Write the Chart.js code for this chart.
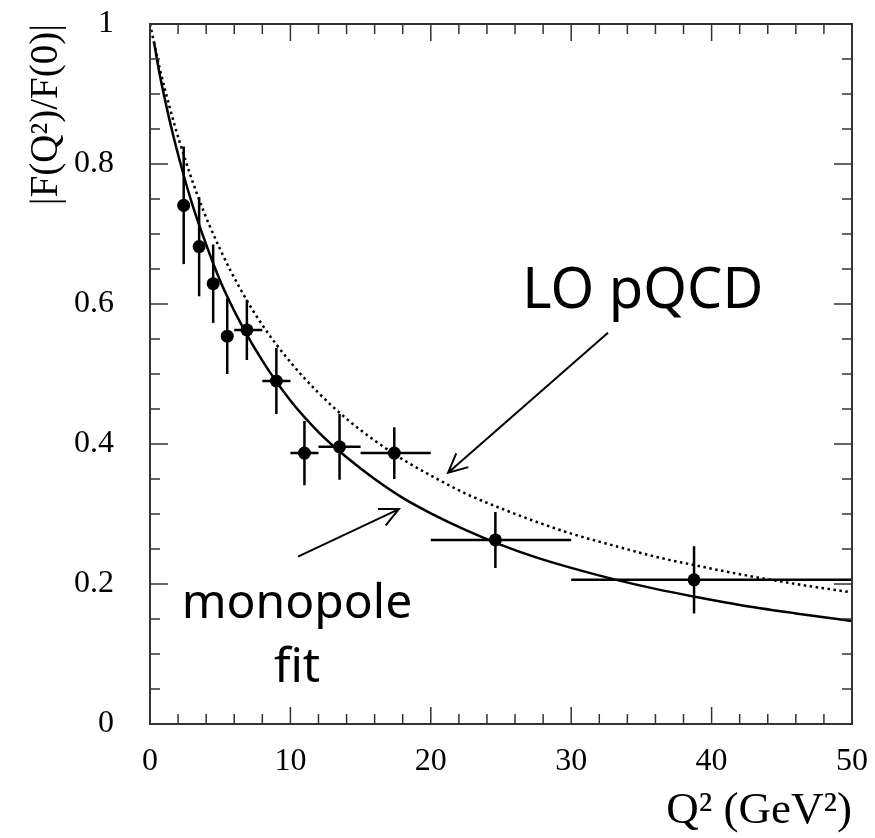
<!DOCTYPE html>
<html>
<head>
<meta charset="utf-8">
<script src="https://cdn.jsdelivr.net/npm/chart.js@4.4.0/dist/chart.umd.min.js"></script>
<style>
  html, body { margin: 0; padding: 0; background: #fff; }
  #wrap { width: 875px; height: 838px; }
</style>
</head>
<body>
<div id="wrap"><canvas id="ff"></canvas></div>
<script>
// measured points
var qsq    = [2.4, 3.5, 4.5, 5.5, 6.9, 9.0, 11.0, 13.5, 17.4, 24.6, 38.75];
var ff     = [0.741, 0.682, 0.629, 0.554, 0.563, 0.49, 0.387, 0.396, 0.387, 0.263, 0.206];
var ffErr  = [0.084, 0.071, 0.056, 0.054, 0.043, 0.047, 0.046, 0.047, 0.037, 0.04, 0.048];
var qsqLo  = [2.4, 3.5, 4.5, 5.5, 6.0, 8.0, 10.0, 12.0, 15.0, 20.0, 30.0];
var qsqHi  = [2.4, 3.5, 4.5, 5.5, 8.0, 10.0, 12.0, 15.0, 20.0, 30.0, 50.0];

// monopole fit (solid)
var fitQsq = [0.28, 0.7, 1.4, 2.1, 3, 4, 5, 6.5, 8, 10, 12, 14, 16, 18, 20, 22.5, 25, 27.5, 30, 33, 36, 39, 42, 46, 50];
var fitFF  = [0.975, 0.927, 0.862, 0.806, 0.743, 0.685, 0.633, 0.571, 0.519, 0.462, 0.417, 0.381, 0.35, 0.323, 0.301, 0.277, 0.256, 0.238, 0.223, 0.207, 0.193, 0.181, 0.17, 0.158, 0.147];

// LO pQCD (dotted)
var pqcdQsq = [0, 0.7, 1.4, 2.1, 3.5, 5, 6.5, 8, 10, 12, 14, 16, 18, 20, 22.5, 25, 27.5, 30, 33, 36, 39, 42, 46, 50];
var pqcdFF  = [1.0, 0.936, 0.881, 0.832, 0.749, 0.678, 0.619, 0.57, 0.517, 0.473, 0.436, 0.405, 0.378, 0.355, 0.329, 0.308, 0.289, 0.272, 0.255, 0.239, 0.226, 0.214, 0.2, 0.188];

var xTicks = [0, 10, 20, 30, 40, 50];
var yTicks = [0, 0.2, 0.4, 0.6, 0.8, 1];
var xMinorStep = 2;
var yMinorStep = 0.05;

function pts(xs, ys) {
    return xs.map(function(x, i) { return {x: x, y: ys[i]}; });
}

var frameTicks = {
    id: "frameTicks",
    afterDatasetsDraw: function(chart) {
        var ctx = chart.ctx;
        var a = chart.chartArea;
        var xs = chart.scales.x, ys = chart.scales.y;
        ctx.save();
        ctx.strokeStyle = "#333";
        ctx.lineWidth = 1.5;
        var v, px, len;
        for (v = 0; v <= 50.001; v += xMinorStep) {
            px = xs.getPixelForValue(v);
            len = xTicks.indexOf(Math.round(v)) >= 0 ? 17 : 10;
            ctx.beginPath();
            ctx.moveTo(px, a.bottom); ctx.lineTo(px, a.bottom - len);
            ctx.moveTo(px, a.top); ctx.lineTo(px, a.top + len);
            ctx.stroke();
        }
        for (var k = 0; k <= 20; k++) {
            v = k * yMinorStep;
            px = ys.getPixelForValue(v);
            len = (k % 4 === 0) ? 18 : 10;
            ctx.beginPath();
            ctx.moveTo(a.left, px); ctx.lineTo(a.left + len, px);
            ctx.moveTo(a.right, px); ctx.lineTo(a.right - len, px);
            ctx.stroke();
        }
        ctx.lineWidth = 2;
        ctx.strokeRect(a.left, a.top, a.right - a.left, a.bottom - a.top);
        ctx.restore();
    }
};

var errorBars = {
    id: "errorBars",
    beforeDatasetsDraw: function(chart) {
        var ctx = chart.ctx;
        var xs = chart.scales.x, ys = chart.scales.y;
        ctx.save();
        ctx.strokeStyle = "#000";
        ctx.lineWidth = 2.5;
        for (var i = 0; i < qsq.length; i++) {
            var cx = xs.getPixelForValue(qsq[i]);
            var cy = ys.getPixelForValue(ff[i]);
            ctx.beginPath();
            ctx.moveTo(cx, ys.getPixelForValue(ff[i] + ffErr[i]));
            ctx.lineTo(cx, ys.getPixelForValue(ff[i] - ffErr[i]));
            if (qsqHi[i] > qsqLo[i]) {
                ctx.moveTo(xs.getPixelForValue(qsqLo[i]), cy);
                ctx.lineTo(xs.getPixelForValue(qsqHi[i]), cy);
            }
            ctx.stroke();
        }
        ctx.restore();
    }
};

function arrow(ctx, x1, y1, x2, y2) {
    var ang = Math.atan2(y2 - y1, x2 - x1);
    var h = 21, spread = 0.45;
    ctx.beginPath();
    ctx.moveTo(x1, y1); ctx.lineTo(x2, y2);
    ctx.moveTo(x2 - h * Math.cos(ang - spread), y2 - h * Math.sin(ang - spread));
    ctx.lineTo(x2, y2);
    ctx.lineTo(x2 - h * Math.cos(ang + spread), y2 - h * Math.sin(ang + spread));
    ctx.stroke();
}

var notes = {
    id: "notes",
    afterDraw: function(chart) {
        var ctx = chart.ctx;
        var xs = chart.scales.x, ys = chart.scales.y;
        function X(v) { return xs.getPixelForValue(v); }
        function Y(v) { return ys.getPixelForValue(v); }
        ctx.save();
        ctx.fillStyle = "#000";
        ctx.strokeStyle = "#000";
        ctx.lineWidth = 2;
        ctx.textAlign = "center";
        ctx.textBaseline = "alphabetic";
        ctx.font = "56px 'Noto Sans'";
        ctx.fillText("LO pQCD", X(35.1), Y(0.594));
        ctx.font = "48px 'Noto Sans'";
        ctx.fillText("monopole", X(10.47), Y(0.151));
        ctx.fillText("fit", X(10.47), Y(0.06));
        arrow(ctx, X(32.62), Y(0.559), X(21.23), Y(0.359));
        arrow(ctx, X(10.54), Y(0.239), X(17.73), Y(0.307));
        ctx.restore();
    }
};

var serif = "'Liberation Serif', 'Times New Roman', serif";

new Chart(document.getElementById("ff").getContext("2d"), {
    data: {
        datasets: [
            {
                type: "line",
                data: pts(fitQsq, fitFF),
                borderColor: "#000",
                borderWidth: 2.5,
                pointRadius: 0,
                cubicInterpolationMode: "monotone"
            },
            {
                type: "line",
                data: pts(pqcdQsq, pqcdFF),
                borderColor: "#000",
                borderWidth: 2.5,
                borderDash: [2.5, 3.5],
                pointRadius: 0,
                cubicInterpolationMode: "monotone"
            },
            {
                type: "scatter",
                data: pts(qsq, ff),
                backgroundColor: "#000",
                borderColor: "#000",
                pointRadius: 6.5,
                borderWidth: 0
            }
        ]
    },
    options: {
        responsive: true,
        maintainAspectRatio: false,
        animation: false,
        events: [],
        layout: { padding: { top: 24, right: 23, left: 0, bottom: 0 } },
        plugins: {
            legend: { display: false },
            tooltip: { enabled: false }
        },
        scales: {
            x: {
                type: "linear",
                min: 0,
                max: 50,
                afterBuildTicks: function(scale) {
                    scale.ticks = xTicks.map(function(v) { return {value: v}; });
                },
                afterFit: function(scale) {
                    scale.height = 114;
                    scale.paddingLeft = 0;
                    scale.paddingRight = 0;
                },
                grid: { display: false },
                border: { display: false },
                ticks: {
                    color: "#000",
                    padding: 10,
                    font: { family: serif, size: 32 },
                    callback: function(v) { return String(v); }
                },
                title: {
                    display: true,
                    text: "Q² (GeV²)",
                    align: "end",
                    color: "#000",
                    padding: { top: 0, bottom: 0 },
                    font: { family: serif, size: 45 }
                }
            },
            y: {
                type: "linear",
                min: 0,
                max: 1,
                afterBuildTicks: function(scale) {
                    scale.ticks = yTicks.map(function(v) { return {value: v}; });
                },
                afterFit: function(scale) {
                    scale.width = 150;
                    scale.paddingTop = 0;
                    scale.paddingBottom = 0;
                },
                grid: { display: false },
                border: { display: false },
                ticks: {
                    color: "#000",
                    padding: 28,
                    font: { family: serif, size: 32 },
                    callback: function(v) { return String(v); }
                },
                title: {
                    display: true,
                    text: "|F(Q²)/F(0)|",
                    align: "end",
                    color: "#000",
                    padding: { top: 23, bottom: 0 },
                    font: { family: serif, size: 39 }
                }
            }
        }
    },
    plugins: [errorBars, frameTicks, notes]
});
</script>
</body>
</html>
